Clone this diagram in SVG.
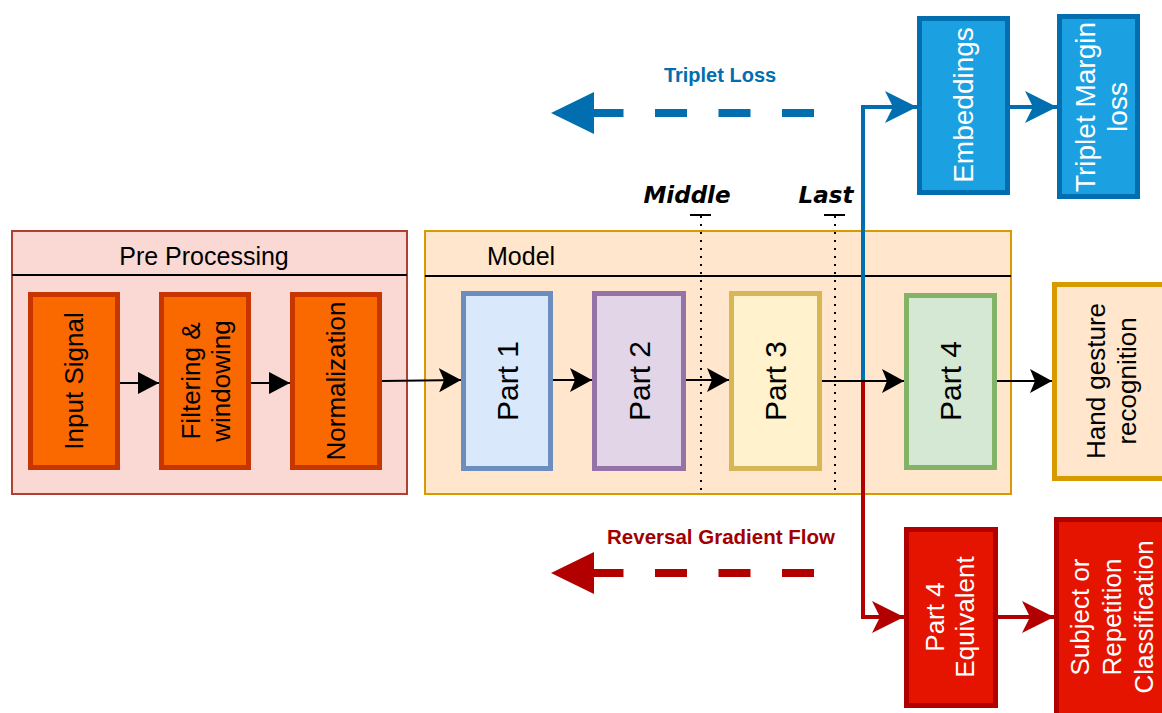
<svg xmlns="http://www.w3.org/2000/svg" width="1162" height="713" viewBox="0 0 1162 713">
<defs>
<style>
text{font-family:"Liberation Sans",Arial,sans-serif;}
.cont{stroke-width:2;}
.box{stroke-width:5;}
.lbl{font-size:26px;text-anchor:middle;dominant-baseline:central;}
.part{font-size:30px;text-anchor:middle;dominant-baseline:central;fill:#000;}
.hdr{font-size:25px;fill:#000;}
.org{fill:#FA6800;stroke:#C73500;}
.blu{fill:#1BA1E2;stroke:#006EAF;}
.red{fill:#E51400;stroke:#B20000;}
.wht{fill:#fff;}
.blk{stroke:#000;stroke-width:2;fill:none;}
.dot{stroke:#000;stroke-width:2;stroke-dasharray:2 6;fill:none;}
.pos{font-family:"DejaVu Sans",Verdana,sans-serif;font-size:23px;font-weight:bold;font-style:italic;text-anchor:middle;fill:#000;}
</style>
<marker id="blk" viewBox="0 0 21 22" markerWidth="21" markerHeight="22" refX="21" refY="11" orient="auto" markerUnits="userSpaceOnUse"><path d="M0,0 L21,11 L0,22 Z" fill="#000"/></marker>
<marker id="cls" viewBox="0 0 22 24" markerWidth="22" markerHeight="24" refX="22" refY="12" orient="auto" markerUnits="userSpaceOnUse"><path d="M0,0 L22,12 L0,24 L5,12 Z" fill="#000"/></marker>
<marker id="bla" viewBox="0 0 32 32" markerWidth="32" markerHeight="32" refX="32" refY="16" orient="auto" markerUnits="userSpaceOnUse"><path d="M0,0 L32,16 L0,32 L8,16 Z" fill="#006EAF"/></marker>
<marker id="rda" viewBox="0 0 32 32" markerWidth="32" markerHeight="32" refX="32" refY="16" orient="auto" markerUnits="userSpaceOnUse"><path d="M0,0 L32,16 L0,32 L8,16 Z" fill="#B20000"/></marker>
</defs>
<rect width="1162" height="713" fill="#fff"/>

<g id="preprocessing">
<rect class="cont" x="12" y="231" width="395" height="263" fill="#FAD9D5" stroke="#AE4132"/>
<line x1="12" y1="275" x2="407" y2="275" stroke="#000" stroke-width="2"/>
<text class="hdr" x="204" y="265" text-anchor="middle">Pre Processing</text>
</g>
<g id="model">
<rect class="cont" x="425" y="231" width="586" height="263" fill="#FFE6CC" stroke="#D79B00"/>
<line x1="425" y1="276" x2="1011" y2="276" stroke="#000" stroke-width="2"/>
<text class="hdr" x="487" y="265">Model</text>
</g>

<g id="input-signal">
<rect class="box org" x="30.5" y="294.5" width="87" height="173"/>
<text class="lbl" transform="translate(74,381) rotate(-90)">Input Signal</text>
</g>
<g id="filtering">
<rect class="box org" x="161.5" y="294.5" width="87" height="173"/>
<text class="lbl" transform="translate(206,381) rotate(-90)"><tspan x="0" y="-15">Filtering &amp;</tspan><tspan x="0" y="15">windowing</tspan></text>
</g>
<g id="normalization">
<rect class="box org" x="292.5" y="294.5" width="87" height="173"/>
<text class="lbl" transform="translate(336,381) rotate(-90)">Normalization</text>
</g>

<g id="part1">
<rect class="box" x="463.5" y="293.5" width="87" height="175" fill="#DAE8FC" stroke="#6C8EBF"/>
<text class="part" transform="translate(507,381) rotate(-90)">Part 1</text>
</g>
<g id="part2">
<rect class="box" x="594.5" y="293.5" width="89" height="175" fill="#E1D5E7" stroke="#9673A6"/>
<text class="part" transform="translate(639,381) rotate(-90)">Part 2</text>
</g>
<g id="part3">
<rect class="box" x="731.5" y="293.5" width="88" height="175" fill="#FFF2CC" stroke="#D6B656"/>
<text class="part" transform="translate(775,381) rotate(-90)">Part 3</text>
</g>
<g id="part4">
<rect class="box" x="906.5" y="295.5" width="88" height="172" fill="#D5E8D4" stroke="#82B366"/>
<text class="part" transform="translate(950,381) rotate(-90)">Part 4</text>
</g>

<g id="hand-gesture">
<rect class="box" x="1054.5" y="284.5" width="115" height="194" fill="#FFE6CC" stroke="#D79B00"/>
<text class="lbl" transform="translate(1111,381) rotate(-90)"><tspan x="0" y="-15.5">Hand gesture</tspan><tspan x="0" y="15.5">recognition</tspan></text>
</g>

<g id="embeddings">
<rect class="box blu" x="919.5" y="18.5" width="88" height="174"/>
<text class="lbl wht" style="font-size:28px" transform="translate(963,105) rotate(-90)">Embeddings</text>
</g>
<g id="triplet-margin">
<rect class="box blu" x="1059.5" y="16.5" width="78" height="180"/>
<text class="lbl wht" style="font-size:28px" transform="translate(1101,107) rotate(-90)"><tspan x="0" y="-16">Triplet Margin</tspan><tspan x="0" y="16">loss</tspan></text>
</g>

<g id="part4-equivalent">
<rect class="box red" x="906.5" y="529.5" width="89" height="176"/>
<text class="lbl wht" transform="translate(950,617) rotate(-90)"><tspan x="0" y="-15">Part 4</tspan><tspan x="0" y="15">Equivalent</tspan></text>
</g>
<g id="subject-classification">
<rect class="box red" x="1056.5" y="519.5" width="115" height="200"/>
<text class="lbl wht" transform="translate(1112,617) rotate(-90)"><tspan x="0" y="-32">Subject or</tspan><tspan x="0" y="0">Repetition</tspan><tspan x="0" y="32">Classification</tspan></text>
</g>

<g id="markers-middle-last">
<line class="dot" x1="701" y1="216" x2="701" y2="494"/>
<line x1="690" y1="215" x2="711" y2="215" stroke="#000" stroke-width="2"/>
<text class="pos" x="687" y="203">Middle</text>
<line class="dot" x1="835" y1="216" x2="835" y2="494"/>
<line x1="824" y1="215" x2="845" y2="215" stroke="#000" stroke-width="2"/>
<text class="pos" x="826" y="203">Last</text>
</g>

<g id="triplet-loss-label">
<text x="720" y="82" font-size="20" font-weight="bold" fill="#006EAF" text-anchor="middle">Triplet Loss</text>
<line x1="814" y1="113" x2="592" y2="113" stroke="#006EAF" stroke-width="8" stroke-dasharray="32 31.5"/>
<path d="M551,113 L594,92 L594,134 Z" fill="#006EAF"/>
</g>
<g id="reversal-label">
<text x="721" y="544" font-size="20.5" font-weight="bold" fill="#A20000" text-anchor="middle">Reversal Gradient Flow</text>
<line x1="814" y1="573" x2="592" y2="573" stroke="#B20000" stroke-width="8" stroke-dasharray="32 31.5"/>
<path d="M551,573 L594,552 L594,594 Z" fill="#B20000"/>
</g>

<g id="connectors">
<line class="blk" x1="120" y1="383" x2="159" y2="383" marker-end="url(#blk)"/>
<line class="blk" x1="251" y1="383" x2="290" y2="383" marker-end="url(#blk)"/>
<line class="blk" x1="382" y1="381" x2="461" y2="380" marker-end="url(#cls)"/>
<line class="blk" x1="553" y1="380" x2="592" y2="380" marker-end="url(#cls)"/>
<line class="blk" x1="686" y1="380" x2="729" y2="380" marker-end="url(#cls)"/>
<path d="M863,381 L863,107 L917,107" fill="none" stroke="#006EAF" stroke-width="4" marker-end="url(#bla)"/>
<path d="M863,381 L863,617 L904,617" fill="none" stroke="#B20000" stroke-width="4" marker-end="url(#rda)"/>
<line class="blk" x1="822" y1="381" x2="904" y2="381" marker-end="url(#cls)"/>
<line class="blk" x1="997" y1="381" x2="1052" y2="381" marker-end="url(#cls)"/>
<line x1="1010" y1="107" x2="1057" y2="107" stroke="#006EAF" stroke-width="4" marker-end="url(#bla)"/>
<line x1="998" y1="617" x2="1054" y2="617" stroke="#B20000" stroke-width="4" marker-end="url(#rda)"/>
</g>
</svg>
